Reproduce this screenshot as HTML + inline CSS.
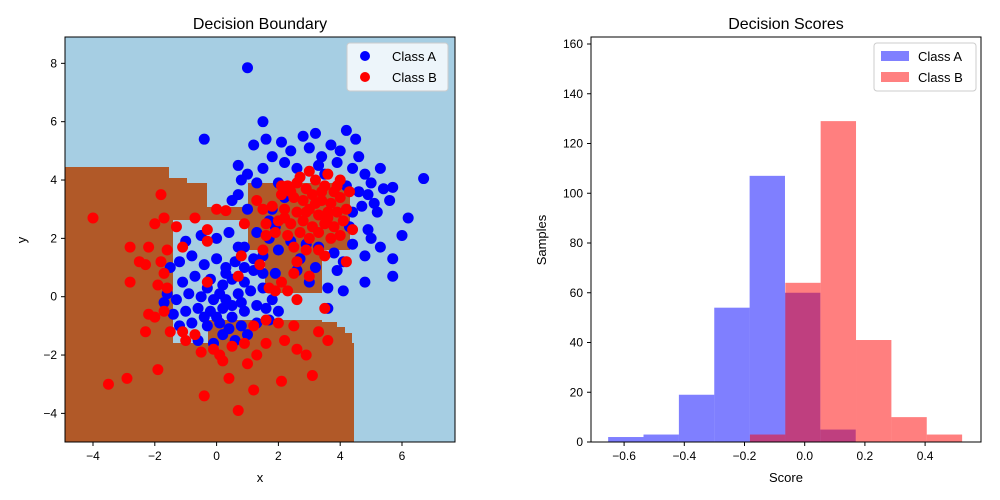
<!DOCTYPE html>
<html><head><meta charset="utf-8"><style>
body{margin:0;background:#fff;}
svg{display:block;font-family:"Liberation Sans","DejaVu Sans",sans-serif;}
</style></head><body>
<svg id="fig" width="1000" height="500" xmlns="http://www.w3.org/2000/svg">
<defs><clipPath id="clipL"><rect x="65" y="37" width="390" height="405"/></clipPath></defs>
<g>
  <rect x="65" y="37" width="390" height="405" fill="#a6cee3"/>
  <path fill="#b15928" fill-rule="evenodd" d="
   M65,167 L169,167 L169,178 L187,178 L187,183 L207,183 L207,207 L248,207 L248,183 L350,183 L350,250 L322,250 L322,293 L265,293 L265,320 L322,320 L322,322 L337,322 L337,327 L345,327 L345,333 L352,333 L352,343 L354,343 L354,442 L65,442 Z
   M173,220 L248,220 L248,250 L265,250 L265,320 L208,320 L208,343 L173,343 L173,323 Z"/>
  <g id="pts" clip-path="url(#clipL)"></g>
  <rect x="65" y="37" width="390" height="405" fill="none" stroke="#000" stroke-width="1"/>
  <g id="lticks" font-size="12"></g>
  <text x="260" y="29" font-size="16" text-anchor="middle">Decision Boundary</text>
  <text x="260" y="482" font-size="13" text-anchor="middle">x</text>
  <text x="26" y="240" font-size="13" text-anchor="middle" transform="rotate(-90 26 240)">y</text>
  <g>
    <rect x="347" y="43" width="101" height="48" rx="3" fill="#fff" fill-opacity="0.8" stroke="#ccc"/>
    <circle cx="365" cy="56" r="5" fill="#0000ff"/>
    <text x="392" y="61" font-size="13">Class A</text>
    <circle cx="365" cy="77" r="5" fill="#ff0000"/>
    <text x="392" y="82" font-size="13">Class B</text>
  </g>
</g>
<g>
  <g id="bars"></g>
  <rect x="591" y="37" width="390" height="405" fill="none" stroke="#000"/>
  <g id="rticks" font-size="12"></g>
  <text x="786" y="29" font-size="16" text-anchor="middle">Decision Scores</text>
  <text x="786" y="482" font-size="13" text-anchor="middle">Score</text>
  <text x="546" y="240" font-size="13" text-anchor="middle" transform="rotate(-90 546 240)">Samples</text>
  <g>
    <rect x="874" y="43" width="102" height="48" rx="3" fill="#fff" fill-opacity="0.8" stroke="#ccc"/>
    <rect x="881" y="51" width="28" height="10" fill="#8080ff"/>
    <text x="918" y="61" font-size="13">Class A</text>
    <rect x="881" y="72" width="28" height="10" fill="#ff8080"/>
    <text x="918" y="82" font-size="13">Class B</text>
  </g>
</g>
</svg>
<script>
const classA = [[1,7.85],[6.7,4.05],[-0.4,5.4],[1.5,6],[3.2,5.6],[2.8,5.5],[4.2,5.7],[4.5,5.4],[2.1,5.3],[1.6,5.4],[3.7,5.2],[1.2,5.2],[2.4,5.0],[3.0,5.1],[4.0,5.0],[4.6,4.8],[1.8,4.8],[2.2,4.6],[3.4,4.8],[5.3,4.4],[0.7,4.5],[1.0,4.2],[1.5,4.4],[4.4,4.4],[5.0,3.9],[5.4,3.7],[5.7,3.75],[0.8,4.0],[1.3,3.9],[4.9,3.5],[5.1,3.2],[5.6,3.3],[5.2,2.9],[4.7,3.1],[6.0,2.1],[6.2,2.7],[5.7,1.3],[5.7,0.7],[4.8,0.5],[4.1,0.2],[3.6,-0.4],[3.6,0.3],[3.2,1.0],[3.8,1.5],[4.4,1.8],[4.9,2.3],[5.0,2.0],[4.3,2.4],[1.3,2.2],[1.7,2.0],[1.9,2.4],[0.9,1.7],[1.5,1.4],[2.0,1.6],[2.7,1.3],[2.9,1.8],[3.3,1.7],[2.4,1.9],[4.1,1.2],[2.2,3.4],[2.0,3.9],[3.5,4.2],[4.2,3.8],[4.6,3.6],[1.0,3.0],[1.8,3.0],[0.5,3.3],[0.7,3.5],[1.7,2.6],[4.4,2.9],[3.9,0.9],[4.8,1.4],[5.3,1.7],[2.6,0.9],[3.0,0.5],[3.3,4.5],[2.6,4.4],[3.9,4.6],[4.8,4.2],
[-1.5,1.0],[-1.2,1.2],[-0.8,1.4],[-0.4,1.1],[0,1.3],[0.3,1.0],[0.6,1.2],[-1.1,0.5],[-0.7,0.7],[-0.2,0.6],[0.2,0.4],[0.5,0.6],[0.9,0.5],[1.2,0.9],[-1.6,0.1],[-1.3,-0.1],[-0.9,0.1],[-0.5,0],[-0.1,-0.1],[0.3,-0.1],[0.7,0.1],[1.1,0.2],[1.5,0.3],[-1.4,-0.6],[-1.0,-0.5],[-0.6,-0.4],[-0.2,-0.5],[0.2,-0.4],[0.5,-0.3],[0.9,-0.5],[1.3,-0.3],[-1.2,-1.0],[-0.8,-0.9],[-0.3,-1.0],[0.1,-0.9],[0.4,-1.1],[0.8,-1.0],[1.3,-0.9],[-0.6,-1.5],[-0.1,-1.6],[0.6,-1.5],[1.0,-1.3],[1.7,-0.8],[1.8,-0.1],[1.9,0.8],[2.0,-0.5],[0.0,2.0],[-0.5,2.1],[0.7,1.7],[0.4,2.2],[-1.0,1.9],[1.2,1.3],[-0.3,0.3],[0.1,0.1],[0.5,-0.7],[0.0,-0.7],[-0.4,-0.7],[0.8,-0.2],[1.6,-0.4],[-1.7,-0.2],[0.3,0.8],[1.5,0.8],[0.9,1.0],[0.2,-1.3]];
const classB = [[2.3,3.8],[2.6,3.9],[2.9,3.7],[3.2,4.0],[3.5,3.8],[3.8,3.6],[2.1,3.5],[2.5,3.4],[2.8,3.3],[3.1,3.5],[3.4,3.3],[3.7,3.2],[4.0,3.4],[1.8,3.1],[2.2,3.0],[2.6,2.9],[3.0,3.0],[3.3,2.8],[3.6,2.9],[3.9,2.9],[4.2,3.0],[2.0,2.6],[2.4,2.5],[2.8,2.6],[3.1,2.4],[3.5,2.5],[3.8,2.4],[4.1,2.6],[2.3,2.1],[2.7,2.2],[3.0,2.0],[3.3,2.2],[3.7,2.0],[4.0,2.1],[2.5,1.7],[2.9,1.6],[3.3,1.6],[1.5,3.0],[1.3,3.3],[1.6,2.5],[4.3,3.6],[4.0,4.0],[3.0,4.3],[2.7,4.1],[3.6,4.2],[2.1,3.8],[1.9,2.2],[4.4,2.3],[3.5,1.4],[2.6,1.2],[4.2,1.2],[2.5,0.8],[3.0,0.7],[2.3,0.2],[2.6,-0.1],[3.5,-0.4],[1.6,2.1],[3.9,3.8],[2.4,3.6],[3.2,3.2],[2.9,2.9],[3.4,3.6],[2.2,2.7],[3.6,2.7],
[-4,2.7],[-2.8,0.5],[-2.5,1.2],[-2.3,1.1],[-2.8,1.7],[-2.2,1.7],[-1.8,3.5],[-2,2.5],[-1.7,2.7],[-1.6,1.6],[-1.3,2.4],[-1.1,1.7],[-0.7,2.7],[-0.3,2.3],[-0.3,1.9],[0,3],[0.3,2.95],[-1.8,1.2],[-1.7,0.8],[-1.9,0.4],[-1.6,0.3],[-2.2,-0.6],[-2.0,-0.7],[-1.7,-0.5],[-2.3,-1.2],[-1.5,-1.2],[-1.1,-1.2],[-1.0,-1.5],[-0.7,-1.3],[-0.5,-1.9],[-0.1,-1.8],[0.1,-2.0],[0.2,-2.2],[0.5,-1.7],[0.9,-1.6],[1.2,-1.0],[1.6,-0.8],[2.0,-0.9],[2.5,-1.0],[1.6,-1.6],[2.2,-1.5],[2.6,-1.8],[2.9,-2.0],[1.3,-2.0],[1.0,-2.3],[0.4,-2.8],[-0.4,-3.4],[-1.9,-2.5],[-2.9,-2.8],[-3.5,-3.0],[0.7,-3.9],[1.2,-3.2],[2.1,-2.9],[3.1,-2.7],[3.3,-1.2],[3.6,-1.5],[1.9,0.2],[1.7,0.3],[2.1,0.5],[1.4,1.1],[1.5,1.6],[0.9,2.5],[0.8,1.4],[-0.3,0.5],[0.7,0.7]];
const xTicksL = [-4,-2,0,2,4,6];
const yTicksL = [-4,-2,0,2,4,6,8];
const binStartA = -0.653;
const binStartB = -0.182;
const binWidth = 0.1175;
const countsA = [2,3,19,54,107,60,5];
const countsB = [3,64,129,41,10,3];
const xTicksR = [-0.6,-0.4,-0.2,0.0,0.2,0.4];
const xTickLabelsR = ["−0.6","−0.4","−0.2","0.0","0.2","0.4"];
const yTicksR = [0,20,40,60,80,100,120,140,160];

const NS="http://www.w3.org/2000/svg";
function mk(tag,attrs,parent){const e=document.createElementNS(NS,tag);for(const k in attrs)e.setAttribute(k,attrs[k]);parent.appendChild(e);return e;}
const sxL=v=>216.6+v*30.9, syL=v=>296.7-v*29.17;
const sxR=v=>804.7+v*301, syR=v=>442-v*2.4875;

const pts=document.getElementById('pts');
classA.forEach(p=>{const c=mk('circle',{cx:sxL(p[0]),cy:syL(p[1]),r:5.5,fill:'#0000ff'},pts);

});
classB.forEach(p=>{const c=mk('circle',{cx:sxL(p[0]),cy:syL(p[1]),r:5.5,fill:'#ff0000'},pts);

});

const lt=document.getElementById('lticks');
xTicksL.forEach(v=>{const x=sxL(v);mk('line',{x1:x,x2:x,y1:442,y2:446,stroke:'#000'},lt);
const t=mk('text',{x:x,y:460,'text-anchor':'middle'},lt);t.textContent=(v<0?'−':'')+Math.abs(v);

});
yTicksL.forEach(v=>{const y=syL(v);mk('line',{x1:61,x2:65,y1:y,y2:y,stroke:'#000'},lt);
const t=mk('text',{x:57,y:y+4,'text-anchor':'end'},lt);t.textContent=(v<0?'−':'')+Math.abs(v);

});

const bars=document.getElementById('bars');
countsA.forEach((c,i)=>{const x0=sxR(binStartA+i*binWidth),x1=sxR(binStartA+(i+1)*binWidth);
const r=mk('rect',{x:x0,y:syR(c),width:x1-x0,height:442-syR(c),fill:'#0000ff','fill-opacity':0.5},bars);

});
countsB.forEach((c,i)=>{const x0=sxR(binStartB+i*binWidth),x1=sxR(binStartB+(i+1)*binWidth);
const r=mk('rect',{x:x0,y:syR(c),width:x1-x0,height:442-syR(c),fill:'#ff0000','fill-opacity':0.5},bars);

});

const rt=document.getElementById('rticks');
xTicksR.forEach((v,i)=>{const x=sxR(v);mk('line',{x1:x,x2:x,y1:442,y2:446,stroke:'#000'},rt);
const t=mk('text',{x:x,y:460,'text-anchor':'middle'},rt);t.textContent=xTickLabelsR[i];

});
yTicksR.forEach(v=>{const y=syR(v);mk('line',{x1:587,x2:591,y1:y,y2:y,stroke:'#000'},rt);
const t=mk('text',{x:583,y:y+4,'text-anchor':'end'},rt);t.textContent=v;

});
</script>
</body></html>
